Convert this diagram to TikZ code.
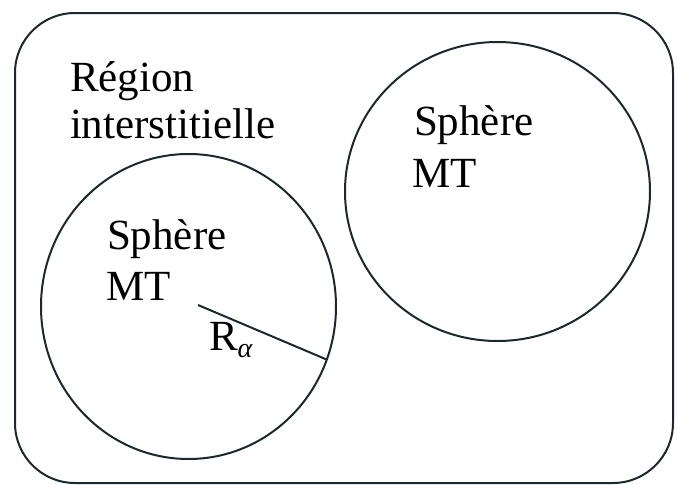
\documentclass[tikz,border=0pt]{standalone}
\usepackage{fontspec}
\setmainfont{Liberation Serif}
\usetikzlibrary{shapes.geometric}
\definecolor{ink}{rgb}{0.10,0.16,0.18}
\begin{document}
\begin{tikzpicture}[x=1pt,y=-1pt,
  outline/.style={draw=ink,line width=2pt},
  label/.style={anchor=base west,inner sep=0pt,outer sep=0pt,font=\fontsize{43}{47}\selectfont,text=black},
  sphere/.style={outline,ellipse,inner sep=0pt,outer sep=0pt}]
\useasboundingbox (0,0) rectangle (678,485);
\node[outline,rectangle,rounded corners=60pt,minimum width=658pt,minimum height=470pt,inner sep=0pt,outer sep=0pt] (region) at (344,248) {};
\node[sphere,minimum width=295pt,minimum height=305pt] (s1) at (188.5,306.5) {};
\node[sphere,minimum width=305pt,minimum height=299pt] (s2) at (497.5,191.5) {};
\node[label] (t1) at (70,91) {Région};
\node[label] (t2) at (70,138) {interstitielle};
\node[label] (t3) at (414,135) {Sphère};
\node[label] (t4) at (412,187) {MT};
\node[label] (t5) at (107,249) {Sphère};
\node[label] (t6) at (106,300) {MT};
\coordinate (c1) at (198,305);
\draw[draw=ink,line width=2pt] (c1) -- (s1.-21);
\node[label] (ra) at (209,350) {R\raisebox{-7pt}{\fontsize{28}{30}\selectfont\itshape α}};
\end{tikzpicture}
\end{document}
